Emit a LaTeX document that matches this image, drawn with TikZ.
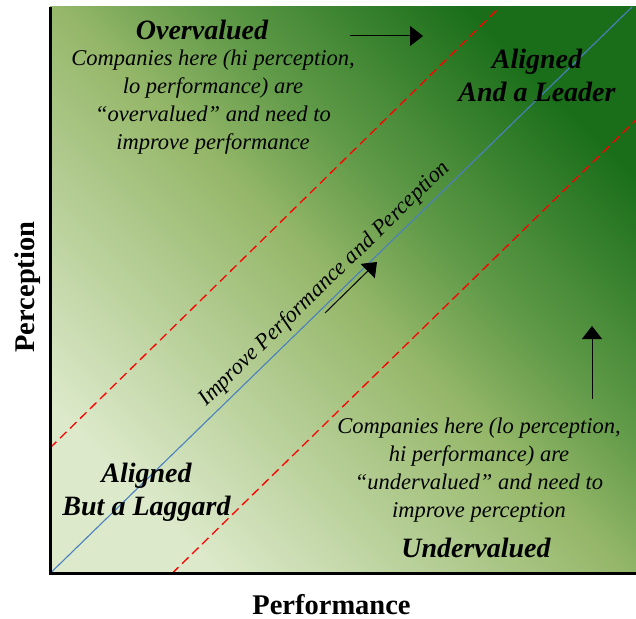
\documentclass[tikz,border=0pt]{standalone}
\usepackage{fontspec}
\setmainfont{Liberation Serif}
\usetikzlibrary{arrows.meta}

\definecolor{paleG}{HTML}{DCE9CA}
\definecolor{midG}{HTML}{95B769}
\definecolor{stepG}{HTML}{609A48}
\definecolor{darkG}{HTML}{1A6E1A}
\definecolor{diagBlue}{HTML}{4A80C0}

% pale lower-left to dark upper-right field
\pgfdeclareverticalshading{fieldshade}{100bp}{%
  color(0bp)=(paleG); color(25bp)=(paleG); color(50bp)=(midG);
  color(59bp)=(stepG); color(75bp)=(darkG); color(100bp)=(darkG)}

\tikzset{
  heading/.style={font=\fontsize{28}{33}\selectfont\bfseries\itshape, align=center, anchor=base, inner sep=0pt},
  blurb/.style={font=\fontsize{22.5}{28}\selectfont\itshape, align=center, anchor=base, inner sep=0pt},
  axislabel/.style={font=\fontsize{28.5}{33}\selectfont\bfseries, anchor=base, inner sep=0pt},
  bandline/.style={red, line width=1.3pt, dash pattern=on 9pt off 5pt},
  idealline/.style={diagBlue, line width=1.1pt},
  axisline/.style={black, line width=3pt},
  moveArrow/.style={black, line width=1pt, -{Triangle[length=13pt,width=20pt]}},
}

\begin{document}
\begin{tikzpicture}[x=1pt,y=-1pt]
\useasboundingbox (0,0) rectangle (636,618);

% background field
\shade[shading=fieldshade, shading angle=-45] (50,7) rectangle (636,573.5);

% diagonals
\coordinate (O) at (50,573.5);
\coordinate (TR) at (632,7);
\coordinate (hiL) at (50,448);
\coordinate (hiR) at (500,7);
\coordinate (loL) at (172,573.5);
\coordinate (loR) at (636,120);
\draw[bandline] (hiL) -- (hiR);
\draw[bandline] (loL) -- (loR);
\draw[idealline] (O) -- (TR);

% axes
\coordinate (top) at (50,7);
\coordinate (right) at (636,573.5);
\draw[axisline] (top) -- (O) -- (right);

% direction arrows
\coordinate (a1s) at (350,36);
\coordinate (a1e) at (423,36);
\coordinate (a2s) at (325,313);
\coordinate (a2e) at (377,262);
\coordinate (a3s) at (592,399);
\coordinate (a3e) at (592,326);
\draw[moveArrow] (a1s) -- (a1e);
\draw[moveArrow] (a2s) -- (a2e);
\draw[moveArrow] (a3s) -- (a3e);

% quadrant texts (anchored at the baseline of the last line)
\node[heading] (over) at (202,39.3) {Overvalued};
\node[blurb] (overtxt) at (213,149.7) {Companies here (hi perception,\\lo performance) are\\``overvalued'' and need to\\improve performance};
\node[heading] (leader) at (537,101) {Aligned\\And a Leader};
\node[blurb] (undertxt) at (479,517) {Companies here (lo perception,\\hi performance) are\\``undervalued'' and need to\\improve perception};
\node[heading] (under) at (476,557) {Undervalued};
\node[heading] (laggard) at (146.5,515) {Aligned\\But a Laggard};

% diagonal label
\node[blurb, rotate=44.3] (improve) at (328.5,288) {Improve Performance and Perception};

% axis labels
\node[axislabel] (xlab) at (331.5,614.5) {Performance};
\node[axislabel, rotate=90] (ylab) at (34,287) {Perception};
\end{tikzpicture}
\end{document}
